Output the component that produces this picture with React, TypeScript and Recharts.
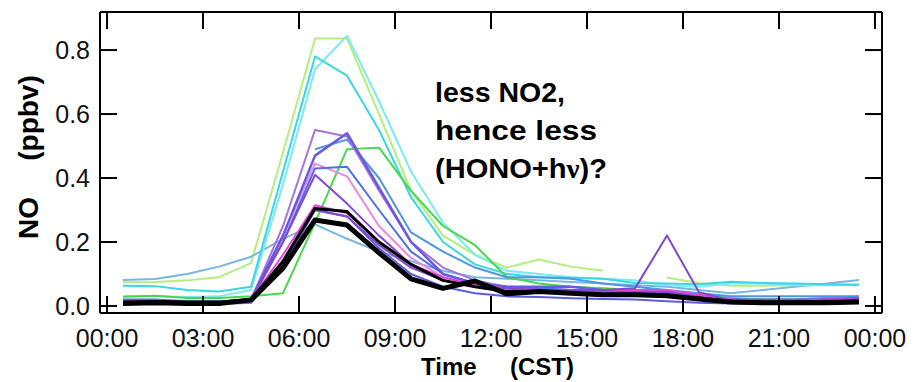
import { LineChart, Line, XAxis, YAxis } from 'recharts';

// hourly means, plotted at the half hour
const HOURS = [0.5, 1.5, 2.5, 3.5, 4.5, 5.5, 6.5, 7.5, 8.5, 9.5, 10.5, 11.5, 12.5, 13.5, 14.5, 15.5, 16.5, 17.5, 18.5, 19.5, 20.5, 21.5, 22.5, 23.5];

const X_TICKS = [0, 3, 6, 9, 12, 15, 18, 21, 24];
const X_TICK_LABELS = ['00:00', '03:00', '06:00', '09:00', '12:00', '15:00', '18:00', '21:00', '00:00'];
const Y_TICKS = [0, 0.2, 0.4, 0.6, 0.8];
const Y_TICK_LABELS = ['0.0', '0.2', '0.4', '0.6', '0.8'];

const lightGreen = [0.074, 0.075, 0.08, 0.09, 0.134, 0.48, 0.836, 0.836, 0.6, 0.36, 0.22, 0.16, 0.12, 0.145, 0.123, 0.11, null, 0.088, 0.072, 0.063, 0.063, 0.065, 0.066, 0.066];
const cyanA = [0.063, 0.062, 0.05, 0.045, 0.06, 0.42, 0.78, 0.72, 0.55, 0.34, 0.2, 0.13, 0.1, 0.09, 0.088, 0.085, 0.072, 0.07, 0.068, 0.076, 0.072, 0.07, 0.068, 0.066];
const cyanB = [0.03, 0.03, 0.028, 0.03, 0.05, 0.38, 0.74, 0.845, 0.64, 0.42, 0.26, 0.16, 0.11, 0.1, 0.09, 0.085, 0.08, 0.065, 0.06, 0.07, 0.07, 0.065, 0.065, 0.066];
const lightBlue = [0.081, 0.084, 0.1, 0.123, 0.154, 0.21, 0.255, 0.21, 0.17, 0.14, 0.11, 0.09, 0.085, 0.08, 0.075, 0.07, 0.065, 0.06, 0.05, 0.04, 0.05, 0.06, 0.07, 0.081];
const green = [0.029, 0.032, 0.025, 0.025, 0.03, 0.04, 0.26, 0.49, 0.495, 0.36, 0.25, 0.19, 0.09, 0.07, 0.06, 0.055, 0.05, 0.045, 0.035, 0.025, 0.02, 0.02, 0.025, 0.03];
const midBlue = [null, null, null, null, null, null, 0.49, 0.52, 0.4, 0.23, 0.17, 0.12, 0.09, 0.09, 0.085, 0.07, 0.06, 0.05, 0.04, 0.03, 0.03, 0.03, 0.03, 0.03];
const lavender = [0.015, 0.015, 0.012, 0.012, 0.02, 0.25, 0.55, 0.53, 0.36, 0.2, 0.12, 0.08, 0.06, 0.055, 0.05, 0.05, 0.05, 0.04, 0.035, 0.02, 0.02, 0.02, 0.025, 0.025];
const blueViolet = [0.01, 0.012, 0.01, 0.01, 0.02, 0.22, 0.47, 0.54, 0.37, 0.2, 0.1, 0.07, 0.06, 0.06, 0.06, 0.05, 0.045, 0.04, 0.03, 0.02, 0.015, 0.015, 0.02, 0.025];
const royalBlue = [0.02, 0.02, 0.015, 0.015, 0.02, 0.2, 0.43, 0.435, 0.3, 0.17, 0.1, 0.07, 0.06, 0.055, 0.05, 0.045, 0.04, 0.035, 0.03, 0.02, 0.02, 0.02, 0.02, 0.02];
const pink = [0.015, 0.015, 0.012, 0.012, 0.02, 0.22, 0.445, 0.405, 0.25, 0.15, 0.09, 0.065, 0.055, 0.05, 0.05, 0.05, 0.05, 0.045, 0.03, 0.02, 0.015, 0.015, 0.02, 0.02];
const darkViolet = [0.012, 0.012, 0.01, 0.01, 0.018, 0.2, 0.41, 0.32, 0.22, 0.13, 0.08, 0.06, 0.055, 0.05, 0.05, 0.05, 0.05, 0.045, 0.03, 0.02, 0.015, 0.015, 0.02, 0.02];
const magenta = [0.015, 0.015, 0.012, 0.012, 0.02, 0.16, 0.315, 0.29, 0.2, 0.13, 0.09, 0.065, 0.055, 0.05, 0.05, 0.05, 0.05, 0.05, 0.035, 0.02, 0.015, 0.015, 0.02, 0.02];
const spikePurple = [0.012, 0.012, 0.01, 0.01, 0.015, 0.13, 0.3, 0.28, 0.19, 0.12, 0.08, 0.06, 0.055, 0.05, 0.05, 0.05, 0.055, 0.22, 0.043, 0.017, 0.015, 0.015, 0.015, 0.02];
const slateBlue = [0.008, 0.008, 0.006, 0.006, 0.01, 0.12, 0.3, 0.28, 0.18, 0.1, 0.06, 0.04, 0.03, 0.028, 0.024, 0.022, 0.02, 0.015, 0.01, 0.008, 0.006, 0.006, 0.008, 0.01];
const meanA = [0.012, 0.014, 0.012, 0.012, 0.02, 0.14, 0.305, 0.295, 0.2, 0.13, 0.08, 0.06, 0.045, 0.045, 0.04, 0.035, 0.035, 0.03, 0.025, 0.015, 0.012, 0.012, 0.015, 0.015];
const meanB = [0.008, 0.01, 0.008, 0.008, 0.019, 0.118, 0.269, 0.253, 0.166, 0.085, 0.055, 0.078, 0.038, 0.045, 0.04, 0.035, 0.035, 0.032, 0.022, 0.012, 0.01, 0.01, 0.01, 0.012];

const SERIES = [
  { key: 'lightGreen', values: lightGreen, color: '#b4ee7c', width: 2 },
  { key: 'lightBlue', values: lightBlue, color: '#78b6e2', width: 2 },
  { key: 'cyanB', values: cyanB, color: '#7ceaf2', width: 2 },
  { key: 'cyanA', values: cyanA, color: '#3ad6e6', width: 2 },
  { key: 'green', values: green, color: '#46d84e', width: 2 },
  { key: 'midBlue', values: midBlue, color: '#4c96e4', width: 2 },
  { key: 'pink', values: pink, color: '#ec8ade', width: 2 },
  { key: 'lavender', values: lavender, color: '#a274dc', width: 2 },
  { key: 'royalBlue', values: royalBlue, color: '#4a72e2', width: 2 },
  { key: 'blueViolet', values: blueViolet, color: '#6a58e2', width: 2.5 },
  { key: 'darkViolet', values: darkViolet, color: '#8446d4', width: 2 },
  { key: 'slateBlue', values: slateBlue, color: '#5c5ce0', width: 2 },
  { key: 'magenta', values: magenta, color: '#e046dc', width: 2 },
  { key: 'spikePurple', values: spikePurple, color: '#8448cc', width: 2 },
  { key: 'meanA', values: meanA, color: '#000000', width: 3 },
  { key: 'meanB', values: meanB, color: '#000000', width: 5 },
];

const rows = HOURS.map((hour, i) => {
  const row: Record<string, number | null> = { hour };
  SERIES.forEach((s) => {
    row[s.key] = s.values[i];
  });
  return row;
});

const FONT = '"Liberation Sans", Arial, sans-serif';
const TICK_LEN = 17;

function BottomTick({ x, y, payload }: any) {
  const label = X_TICK_LABELS[X_TICKS.indexOf(payload.value)];
  return (
    <g>
      <line x1={x} x2={x} y1={y} y2={y - TICK_LEN} stroke="#000" strokeWidth={2} />
      <text x={x} y={y + 34} textAnchor="middle" fontSize={25} fontFamily={FONT} fill="#111">
        {label}
      </text>
    </g>
  );
}

function TopTick({ x, y }: any) {
  return <line x1={x} x2={x} y1={y} y2={y + TICK_LEN} stroke="#000" strokeWidth={2} />;
}

function LeftTick({ x, y, payload }: any) {
  const label = Y_TICK_LABELS[Y_TICKS.indexOf(payload.value)];
  return (
    <g>
      <line x1={x} x2={x + TICK_LEN} y1={y} y2={y} stroke="#000" strokeWidth={2} />
      <text x={x - 10} y={y + 9} textAnchor="end" fontSize={25} fontFamily={FONT} fill="#111">
        {label}
      </text>
    </g>
  );
}

function RightTick({ x, y }: any) {
  return <line x1={x} x2={x - TICK_LEN} y1={y} y2={y} stroke="#000" strokeWidth={2} />;
}

const X_DOMAIN = [-0.22, 24.22];
const Y_DOMAIN = [-0.022, 0.919];
const axisLine = { stroke: '#000', strokeWidth: 2 };

export default function App() {
  return (
    <div style={{ position: 'relative', width: 920, height: 382, background: '#fff' }}>
      <style>{'body{margin:0}'}</style>
      <LineChart width={920} height={382} data={rows} margin={{ top: 10, right: 36, bottom: 0, left: 0 }}>
        <XAxis
          xAxisId="b"
          dataKey="hour"
          type="number"
          domain={X_DOMAIN}
          allowDataOverflow
          ticks={X_TICKS}
          interval={0}
          height={69}
          tickSize={0}
          tickMargin={0}
          tickLine={false}
          axisLine={axisLine}
          tick={(p: any) => <BottomTick {...p} />}
        />
        <XAxis
          xAxisId="t"
          orientation="top"
          dataKey="hour"
          type="number"
          domain={X_DOMAIN}
          allowDataOverflow
          ticks={X_TICKS}
          interval={0}
          height={2}
          tickSize={0}
          tickMargin={0}
          tickLine={false}
          axisLine={axisLine}
          tick={(p: any) => <TopTick {...p} />}
        />
        <YAxis
          yAxisId="l"
          type="number"
          domain={Y_DOMAIN}
          allowDataOverflow
          ticks={Y_TICKS}
          interval={0}
          width={100}
          tickSize={0}
          tickMargin={0}
          tickLine={false}
          axisLine={axisLine}
          tick={(p: any) => <LeftTick {...p} />}
        />
        <YAxis
          yAxisId="r"
          orientation="right"
          type="number"
          domain={Y_DOMAIN}
          allowDataOverflow
          ticks={Y_TICKS}
          interval={0}
          width={2}
          tickSize={0}
          tickMargin={0}
          tickLine={false}
          axisLine={axisLine}
          tick={(p: any) => <RightTick {...p} />}
        />
        {SERIES.map((s) => (
          <Line
            key={s.key}
            xAxisId="b"
            yAxisId="l"
            type="linear"
            dataKey={s.key}
            stroke={s.color}
            strokeWidth={s.width}
            strokeLinejoin="round"
            dot={false}
            activeDot={false}
            connectNulls={false}
            isAnimationActive={false}
          />
        ))}
      </LineChart>
      <svg
        width={920}
        height={382}
        style={{ position: 'absolute', left: 0, top: 0, pointerEvents: 'none' }}
      >
        <g fontFamily={FONT} fontWeight="bold" fill="#000">
          <g transform="translate(28,158) rotate(-90)">
            <text x={-60} y={10} fontSize={28} textAnchor="middle">NO</text>
            <text x={40} y={10} fontSize={28} textAnchor="middle">(ppbv)</text>
          </g>
          <text x={421} y={375} fontSize={24}>Time</text>
          <text x={574} y={375} fontSize={24} textAnchor="end">(CST)</text>
          <text x={435} y={102} fontSize={28} textLength={130} lengthAdjust="spacingAndGlyphs">less NO2,</text>
          <text x={435} y={140} fontSize={28} textLength={162} lengthAdjust="spacingAndGlyphs">hence less</text>
          <text x={435} y={178} fontSize={28} textLength={172} lengthAdjust="spacingAndGlyphs">
            (HONO+h<tspan fontFamily='"Liberation Serif", serif'>ν</tspan>)?
          </text>
        </g>
      </svg>
    </div>
  );
}
